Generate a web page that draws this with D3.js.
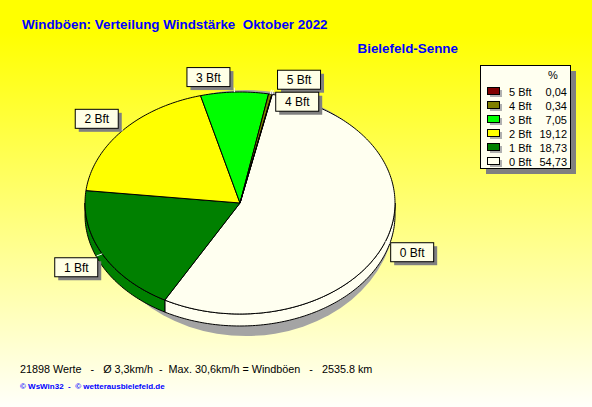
<!DOCTYPE html>
<html>
<head>
<meta charset="utf-8">
<script src="https://cdn.jsdelivr.net/npm/d3@7"></script>
<style>
  body { margin: 0; padding: 0; overflow: hidden; }
  svg { display: block; font-family: Arial, "Liberation Sans", sans-serif; }
</style>
</head>
<body>
<div id="chart"></div>
<script>
'use strict'

// categories and values (percent), order as drawn clockwise from the top
const classes = ['0 Bft', '1 Bft', '2 Bft', '3 Bft', '4 Bft', '5 Bft']
const shares = [54.73, 18.73, 19.12, 7.05, 0.34, 0.04]
const shareLabels = ['54,73', '18,73', '19,12', '7,05', '0,34', '0,04']
const fills = ['#fffff0', '#008000', '#ffff00', '#00ff00', '#808000', '#800000']

const titleText = 'Windböen: Verteilung Windstärke  Oktober 2022'
const stationText = 'Bielefeld-Senne'
const footerText = '21898 Werte   -   Ø 3,3km/h  -  Max. 30,6km/h = Windböen   -   2535.8 km'
const creditText = '© WsWin32  -  © wetterausbielefeld.de'

////////////////////////////////////
//////////// svg setup /////////////
////////////////////////////////////

const svgWidth = 592
const svgHeight = 407

const svg = d3.select('#chart')
    .append('svg')
    .attr('width', svgWidth)
    .attr('height', svgHeight)

const defs = svg.append('defs')
const grad = defs.append('linearGradient')
    .attr('id', 'bg')
    .attr('x1', 0).attr('y1', 0).attr('x2', 0).attr('y2', 1)
grad.append('stop').attr('offset', '0%').attr('stop-color', '#ffff00')
grad.append('stop').attr('offset', '8%').attr('stop-color', '#ffff00')
grad.append('stop').attr('offset', '100%').attr('stop-color', '#fffffa')

svg.append('rect')
    .attr('width', svgWidth)
    .attr('height', svgHeight)
    .attr('fill', 'url(#bg)')

// titles
svg.append('text')
    .attr('x', 22).attr('y', 29)
    .attr('font-size', '13.4px')
    .attr('font-weight', 'bold')
    .attr('fill', '#0000ff')
    .style('white-space', 'pre')
    .text(titleText)

svg.append('text')
    .attr('x', 458).attr('y', 53)
    .attr('text-anchor', 'end')
    .attr('font-size', '13.4px')
    .attr('font-weight', 'bold')
    .attr('fill', '#0000ff')
    .text(stationText)

////////////////////////////////////
////////////// pie /////////////////
////////////////////////////////////

const cx = 240, cy = 203, rx = 155, ry = 111, depth = 12
const rad = Math.PI / 180

const pie = d3.pie()
    .sort(null)
    .value(d => d)
    .startAngle(12 * rad)
    .endAngle(372 * rad)

const arcs = pie(shares)

const pt = (a, k = 1, dy = 0) => [cx + rx * k * Math.sin(a), cy - ry * k * Math.cos(a) + dy]

const line = d3.line()

function arcPoints(a0, a1, dy = 0) {
    const n = Math.max(2, Math.ceil((a1 - a0) / (1 * rad)))
    return d3.range(n + 1).map(i => pt(a0 + (a1 - a0) * i / n, 1, dy))
}

// shadow
svg.append('ellipse')
    .attr('cx', cx + 6).attr('cy', cy + 10)
    .attr('rx', rx - 6).attr('ry', ry + 12)
    .attr('fill', '#a4a4a4')

// side walls (front half only)
const walls = svg.append('g')
arcs.forEach((d, i) => {
    const lo = Math.max(d.startAngle, 90 * rad)
    const hi = Math.min(d.endAngle, 270 * rad)
    if (hi <= lo) return
    const top = arcPoints(lo, hi)
    const bottom = arcPoints(lo, hi, depth).reverse()
    walls.append('path')
        .attr('d', line(top.concat(bottom)) + 'Z')
        .attr('fill', fills[i])
        .attr('stroke', '#000')
        .attr('stroke-width', 1)
        .attr('stroke-linejoin', 'round')
})

// top faces
svg.append('g')
    .selectAll('path')
    .data(arcs)
    .join('path')
    .attr('d', d => line([[cx, cy]].concat(arcPoints(d.startAngle, d.endAngle))) + 'Z')
    .attr('fill', (d, i) => fills[i])
    .attr('stroke', '#000')
    .attr('stroke-width', 1)
    .attr('stroke-linejoin', 'round')

////////////////////////////////////
//////////// labels ////////////////
////////////////////////////////////

const labelG = svg.append('g').attr('font-size', '12px')
const boxW = 43, boxH = 19
const placed = []

// place from the last slice so that small neighbours stack downwards
d3.range(arcs.length - 1, -1, -1).forEach(i => {
    const d = arcs[i]
    const a = (d.startAngle + d.endAngle) / 2
    const s = Math.sin(a), c = -Math.cos(a)
    const [px, py] = pt(a)
    let mx = px + Math.sign(s) * (boxW / 2 + 5)
    let my = py + c * (boxH / 2 + (c < -0.9 ? 6 : 9)) + Math.max(0, c) * depth * 0.8
    // simple collision shift
    let moved = true
    while (moved) {
        moved = false
        placed.forEach(p => {
            if (Math.abs(p.x - mx) < boxW && Math.abs(p.y - my) < boxH + 2) {
                my = p.y + boxH + 3
                moved = true
            }
        })
    }
    placed.push({ x: mx, y: my })

    // leader tick
    labelG.append('line')
        .attr('x1', px).attr('y1', py)
        .attr('x2', pt(a, 1.04)[0]).attr('y2', pt(a, 1.04)[1])
        .attr('stroke', '#fff')

    const g = labelG.append('g')
        .attr('transform', `translate(${mx - boxW / 2},${my - boxH / 2})`)
    g.append('rect')
        .attr('x', 4).attr('y', 4)
        .attr('width', boxW).attr('height', boxH)
        .attr('fill', '#808080')
    g.append('rect')
        .attr('x', 0.5).attr('y', 0.5)
        .attr('width', boxW).attr('height', boxH)
        .attr('fill', '#ffffe6')
        .attr('stroke', '#000')
    g.append('text')
        .attr('x', boxW / 2 + 0.5).attr('y', boxH / 2 + 5)
        .attr('text-anchor', 'middle')
        .attr('fill', '#000')
        .text(classes[i])
})

////////////////////////////////////
//////////// legend ////////////////
////////////////////////////////////

const legX = 480, legY = 65, legW = 90, legH = 103
const legend = svg.append('g').attr('font-size', '11px')
legend.append('rect')
    .attr('x', legX + 6).attr('y', legY + 6)
    .attr('width', legW).attr('height', legH)
    .attr('fill', '#808080')
legend.append('rect')
    .attr('x', legX + 0.5).attr('y', legY + 0.5)
    .attr('width', legW).attr('height', legH)
    .attr('fill', '#fffff0')
    .attr('stroke', '#000')
legend.append('text')
    .attr('x', 553).attr('y', legY + 14)
    .attr('text-anchor', 'middle')
    .text('%')

const rowY = d3.scalePoint()
    .domain(d3.range(classes.length).reverse())
    .range([legY + 27, legY + 97])

d3.range(classes.length).forEach(i => {
    const y = rowY(i)
    legend.append('rect')
        .attr('x', 490).attr('y', y - 2)
        .attr('width', 12).attr('height', 7)
        .attr('fill', '#b0b0b0')
    legend.append('rect')
        .attr('x', 487.5).attr('y', y - 4.5)
        .attr('width', 12).attr('height', 7)
        .attr('fill', fills[i])
        .attr('stroke', '#000')
    legend.append('text')
        .attr('x', 509).attr('y', y + 4)
        .text(classes[i])
    legend.append('text')
        .attr('x', 567).attr('y', y + 4)
        .attr('text-anchor', 'end')
        .text(shareLabels[i])
})

////////////////////////////////////
//////////// footer ////////////////
////////////////////////////////////

svg.append('text')
    .attr('x', 20).attr('y', 373)
    .attr('font-size', '10.8px')
    .attr('fill', '#000')
    .style('white-space', 'pre')
    .text(footerText)

svg.append('text')
    .attr('x', 20).attr('y', 389)
    .attr('font-size', '8px')
    .attr('font-weight', 'bold')
    .attr('fill', '#0000ff')
    .style('white-space', 'pre')
    .text(creditText)
</script>
</body>
</html>
